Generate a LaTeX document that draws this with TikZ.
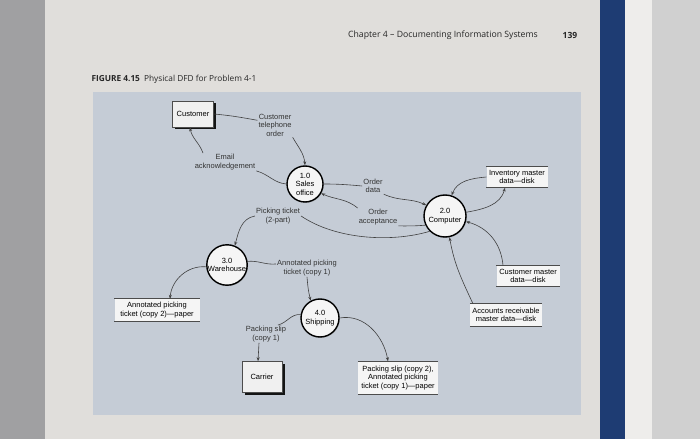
\documentclass[tikz,border=0pt]{standalone}
\usepackage{fontspec}
\setmainfont{Liberation Sans}
\newfontfamily\pagefont{Open Sans}
\usetikzlibrary{arrows.meta,shadows}
\definecolor{outside}{RGB}{160,160,162}
\definecolor{pagecol}{RGB}{224,222,219}
\definecolor{spine}{RGB}{30,60,115}
\definecolor{pageedge}{RGB}{238,237,235}
\definecolor{rightside}{RGB}{208,208,208}
\definecolor{panelblue}{RGB}{197,204,214}

\begin{document}
\begin{tikzpicture}[x=1pt,y=1pt,
    font=\fontsize{7.5}{8.5}\selectfont,
    proc/.style={circle, draw=black, line width=1.4pt, fill=gray!8, minimum size=#1,
        inner sep=0pt, align=center,
        drop shadow={shadow xshift=0.8pt, shadow yshift=-0.8pt, opacity=0.5}},
    ext/.style={rectangle, draw=black!70, fill=gray!12, line width=0.5pt, align=center,
        drop shadow={shadow xshift=2.5pt, shadow yshift=-2.5pt, fill=black, opacity=0.9}},
    store/.style={rectangle, fill=gray!8, align=center, inner sep=1pt},
    storeline/.style={draw=black!70, line width=1.2pt},
    lbl/.style={align=center, inner sep=1pt, text=black!80},
    flow/.style={draw=black!75, line width=0.6pt},
    arr/.style={flow, -{Stealth[length=4pt,width=3pt]}}]
    \useasboundingbox (0,0) rectangle (700,439);
    % page and book
    \fill[outside] (0,0) rectangle (700,439);
    \fill[pagecol] (45,0) rectangle (600,439);
    \fill[spine] (600,0) rectangle (625,439);
    \fill[pageedge] (625,0) rectangle (652,439);
    \fill[rightside] (652,0) rectangle (700,439);
    \node[font=\pagefont\fontsize{8.7}{10}\selectfont, text=black!85] (chap) at (443,404) {Chapter 4 – Documenting Information Systems};
    \node[font=\pagefont\bfseries\fontsize{8.5}{10}\selectfont, text=black!85] (pnum) at (570,404) {139};
    \node[anchor=west, font=\pagefont\fontsize{8.3}{10}\selectfont, text=black!85] (cap) at (88,360) {{\bfseries FIGURE 4.15}\enspace Physical DFD for Problem 4-1};
    \fill[panelblue] (93,24) rectangle (581,347);
    % entities and processes
    \node[ext, minimum width=41pt, minimum height=26pt] (cust) at (193,325) {Customer};
    \node[proc=36pt] (sales) at (305,255) {1.0\\Sales\\office};
    \node[proc=42pt] (comp) at (445,223) {2.0\\Computer};
    \node[proc=40pt] (ware) at (227,174) {3.0\\Warehouse};
    \node[proc=38pt] (ship) at (320,121) {4.0\\Shipping};
    \node[ext, minimum width=40pt, minimum height=31pt] (carrier) at (262,62) {Carrier};
    % data stores
    \node[store, minimum width=61pt, minimum height=21pt] (inv) at (517,262) {Inventory master\\data—disk};
    \node[store, minimum width=63pt, minimum height=21pt] (custm) at (528,163) {Customer master\\data—disk};
    \node[store, minimum width=85pt, minimum height=22pt] (copy2) at (157,129) {Annotated picking\\ticket (copy 2)—paper};
    \node[store, minimum width=72pt, minimum height=22pt] (ar) at (506,124) {Accounts receivable\\master data—disk};
    \node[store, minimum width=80pt, minimum height=33pt] (slip) at (398,61) {Packing slip (copy 2),\\Annotated picking\\ticket (copy 1)—paper};
    \foreach \s in {inv,custm,copy2,ar,slip}
        \draw[storeline] (\s.north west) -- (\s.north east) (\s.south west) -- (\s.south east);
    % flow labels
    \node[lbl] (lTel) at (275,314) {Customer\\telephone\\order};
    \node[lbl] (lEmail) at (225,277) {Email\\acknowledgement};
    \node[lbl] (lOrd) at (373,253) {Order\\data};
    \node[lbl] (lAcc) at (378,222) {Order\\acceptance};
    \node[lbl] (lPick) at (278,223) {Picking ticket\\(2-part)};
    \node[lbl] (lAnn) at (307,171) {Annotated picking\\ticket (copy 1)};
    \node[lbl] (lSlip) at (266,105) {Packing slip\\(copy 1)};
    % flows
    \draw[flow] (cust.east) to[out=-5,in=170] (lTel.165);
    \draw[arr] (lTel.south east) to[out=-60,in=95] (sales.north);
    \draw[flow] (sales.west) to[out=175,in=-15] (lEmail.south east);
    \draw[arr] ([xshift=-22]lEmail.north) to[out=110,in=-80] ([xshift=-3]cust.south);
    \draw[flow] (sales.east) to[out=0,in=175] (lOrd.west);
    \draw[arr] (lOrd.south east) to[out=-25,in=155] (comp.150);
    \draw[flow] (comp.205) to[out=185,in=0] (lAcc.south east);
    \draw[arr] (lAcc.north west) to[out=140,in=-25] (sales.-30);
    \draw[flow] (comp.225) .. controls (390,196) and (335,200) .. (lPick.east);
    \draw[arr] (lPick.west) to[out=190,in=75] (ware.68);
    \draw[arr] (inv.west) to[out=185,in=70] (comp.72);
    \draw[arr] (comp.10) to[out=10,in=-105] ([xshift=-12]inv.south);
    \draw[arr] ([xshift=-25]custm.north) to[out=95,in=-15] (comp.-15);
    \draw[arr] ([xshift=-33]ar.north) to[out=115,in=-80] (comp.-78);
    \draw[flow] (ware.10) to[out=5,in=185] ([yshift=4]lAnn.west);
    \draw[arr] (lAnn.south) to[out=-85,in=105] (ship.118);
    \draw[arr] (ware.185) to[out=175,in=85] ([xshift=13]copy2.north);
    \draw[flow] (ship.170) to[out=175,in=15] ([xshift=12]lSlip.north);
    \draw[arr] ([xshift=-7]lSlip.south) -- ([xshift=-4]carrier.north);
    \draw[arr] (ship.east) to[out=10,in=100] ([xshift=-10]slip.north);
\end{tikzpicture}
\end{document}
